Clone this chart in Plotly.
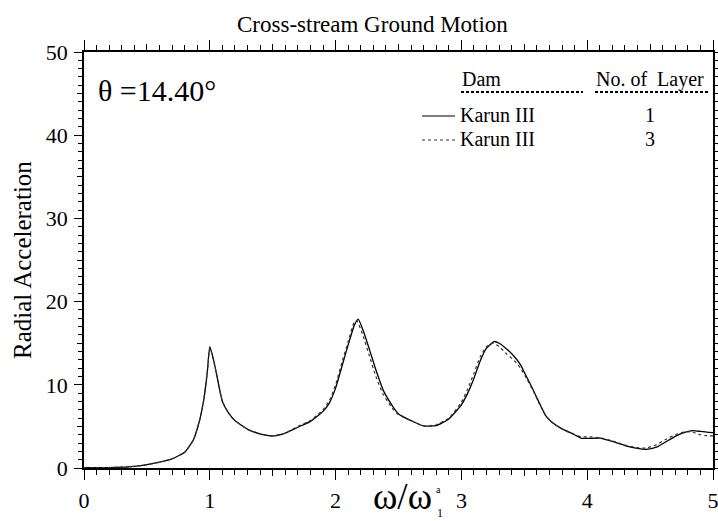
import plotly.graph_objects as go

# ---- data ----
freq_1 = [0, 0.1, 0.2, 0.3, 0.4, 0.5, 0.6, 0.7, 0.8, 0.87, 0.92, 0.95, 0.98, 1.0, 1.03, 1.06, 1.1, 1.15, 1.2,
          1.3, 1.4, 1.5, 1.6, 1.7, 1.8, 1.9, 1.95, 2.0, 2.05, 2.1, 2.15, 2.18, 2.22, 2.27, 2.32, 2.38, 2.45,
          2.5, 2.6, 2.7, 2.8, 2.9, 3.0, 3.05, 3.1, 3.15, 3.2, 3.26, 3.3, 3.36, 3.42, 3.47, 3.52, 3.57, 3.62,
          3.67, 3.72, 3.8, 3.9, 3.95, 4.0, 4.1, 4.2, 4.3, 4.4, 4.47, 4.55, 4.62, 4.7, 4.78, 4.84, 4.9, 4.95, 5.0]
acc_1layer = [0.05, 0.05, 0.05, 0.1, 0.2, 0.4, 0.7, 1.1, 1.9, 3.4, 5.8, 8.0, 11.5, 14.6, 13.0, 10.8, 8.0, 6.6, 5.7,
              4.65, 4.1, 3.85, 4.2, 4.9, 5.6, 6.8, 7.8, 9.6, 12.2, 14.8, 17.2, 17.9, 16.5, 14.2, 11.8, 9.3, 7.5,
              6.5, 5.7, 5.05, 5.1, 5.9, 7.6, 9.0, 10.8, 12.9, 14.4, 15.2, 15.0, 14.3, 13.4, 12.4, 10.9, 9.4, 7.8,
              6.3, 5.5, 4.7, 4.0, 3.6, 3.55, 3.6, 3.2, 2.7, 2.35, 2.25, 2.5, 3.1, 3.8, 4.3, 4.5, 4.4, 4.3, 4.25]

freq_3 = [0, 0.1, 0.2, 0.3, 0.4, 0.5, 0.6, 0.7, 0.8, 0.87, 0.92, 0.95, 0.98, 1.0, 1.03, 1.06, 1.1, 1.15, 1.2,
          1.3, 1.4, 1.5, 1.6, 1.7, 1.8, 1.9, 1.95, 2.0, 2.05, 2.1, 2.15, 2.17, 2.22, 2.27, 2.32, 2.38, 2.45,
          2.5, 2.6, 2.7, 2.8, 2.9, 3.0, 3.05, 3.1, 3.15, 3.2, 3.25, 3.3, 3.36, 3.42, 3.47, 3.52, 3.57, 3.62,
          3.67, 3.72, 3.8, 3.9, 3.95, 4.0, 4.1, 4.2, 4.3, 4.4, 4.47, 4.55, 4.62, 4.7, 4.78, 4.84, 4.9, 4.95, 5.0]
acc_3layer = [0.05, 0.05, 0.05, 0.1, 0.2, 0.4, 0.7, 1.1, 1.9, 3.4, 5.8, 8.0, 11.5, 14.5, 13.0, 10.8, 8.0, 6.6, 5.7,
              4.65, 4.1, 3.85, 4.2, 5.0, 5.7, 7.0, 8.1, 10.0, 12.7, 15.2, 17.6, 17.7, 15.8, 13.4, 11.0, 8.8, 7.2,
              6.4, 5.7, 5.05, 5.2, 6.0, 7.9, 9.5, 11.4, 13.4, 14.6, 15.0, 14.6, 13.7, 12.9, 12.0, 10.7, 9.3, 7.7,
              6.3, 5.5, 4.7, 4.0, 3.75, 3.75, 3.65, 3.25, 2.75, 2.45, 2.4, 2.8, 3.4, 4.0, 4.35, 4.3, 4.0, 3.9, 3.85]

x_major = [0, 1, 2, 3, 4, 5]
x_mid = [0.5, 1.5, 2.5, 3.5, 4.5]
y_major = [0, 10, 20, 30, 40, 50]
y_mid = [5, 15, 25, 35, 45]

FONT = "Liberation Serif"

fig = go.Figure()
fig.add_trace(go.Scatter(x=freq_1, y=acc_1layer, mode="lines",
                         line=dict(color="black", width=1.3, shape="spline", smoothing=0.5),
                         showlegend=False))
fig.add_trace(go.Scatter(x=freq_3, y=acc_3layer, mode="lines",
                         line=dict(color="#333333", width=1.2, dash="dot", shape="spline", smoothing=0.5),
                         showlegend=False))
# invisible trace for overlay axes (medium ticks)
fig.add_trace(go.Scatter(x=[0], y=[0], xaxis="x2", yaxis="y2", mode="markers", marker=dict(opacity=0),
                         showlegend=False, hoverinfo="skip"))

axis_common = dict(showgrid=False, zeroline=False, showline=True, linecolor="black", linewidth=1.6,
                   mirror="ticks", ticks="outside", tickcolor="black", tickwidth=1.2, automargin=False,
                   ticklabeloverflow="allow",
                   tickfont=dict(family=FONT, size=22, color="black"))

fig.update_layout(
    width=718, height=521,
    margin=dict(l=84, r=5, t=52, b=53, autoexpand=False),
    plot_bgcolor="white", paper_bgcolor="white",
    xaxis=dict(range=[0, 5], tickvals=x_major, ticklen=10, ticklabelstandoff=2,
               minor=dict(dtick=0.1, ticklen=5, ticks="outside", tickcolor="black", tickwidth=1.2), **axis_common),
    yaxis=dict(range=[0, 50], tickvals=y_major, ticklen=8, ticklabelstandoff=2,
               minor=dict(dtick=1, ticklen=4, ticks="outside", tickcolor="black", tickwidth=1.2), **axis_common),
    xaxis2=dict(range=[0, 5], overlaying="x", anchor="y", tickvals=x_mid, ticks="outside", ticklen=7,
                tickcolor="black", tickwidth=1.2, mirror="ticks", showticklabels=False, showgrid=False,
                zeroline=False, showline=False, automargin=False),
    yaxis2=dict(range=[0, 50], overlaying="y", anchor="x", tickvals=y_mid, ticks="outside", ticklen=6,
                tickcolor="black", tickwidth=1.2, mirror="ticks", showticklabels=False, showgrid=False,
                zeroline=False, showline=False, automargin=False),
)

def px_x(px):
    return (px - 84) / 629.0

def px_y(py):
    return (468 - py) / 416.0

anns = []
anns.append(dict(text="Cross-stream Ground Motion", x=px_x(372), y=px_y(25), xref="paper", yref="paper",
                 showarrow=False, font=dict(family=FONT, size=23, color="black"), xanchor="center", yanchor="middle"))
anns.append(dict(text="Radial Acceleration", x=px_x(22), y=px_y(260), xref="paper", yref="paper", textangle=-90,
                 showarrow=False, font=dict(family=FONT, size=25, color="black"), xanchor="center", yanchor="middle"))
anns.append(dict(text="θ =14.40°", x=px_x(96), y=px_y(90), xref="paper", yref="paper",
                 showarrow=False, font=dict(family=FONT, size=30, color="black"), xanchor="left", yanchor="middle"))
anns.append(dict(text="ω/ω", x=px_x(434), y=px_y(496), xref="paper", yref="paper",
                 showarrow=False, font=dict(family=FONT, size=37, color="black"), xanchor="right", yanchor="middle"))
anns.append(dict(text="a", x=px_x(434), y=px_y(489), xref="paper", yref="paper",
                 showarrow=False, font=dict(family=FONT, size=10, color="black"), xanchor="left", yanchor="middle"))
anns.append(dict(text="1", x=px_x(435), y=px_y(513), xref="paper", yref="paper",
                 showarrow=False, font=dict(family=FONT, size=12, color="black"), xanchor="left", yanchor="middle"))
# legend table
lf = dict(family=FONT, size=20, color="black")
anns.append(dict(text="Dam", x=px_x(460), y=px_y(79), xref="paper", yref="paper", showarrow=False, font=lf,
                 xanchor="left", yanchor="middle"))
anns.append(dict(text="No. of  Layer", x=px_x(594), y=px_y(79), xref="paper", yref="paper", showarrow=False, font=lf,
                 xanchor="left", yanchor="middle"))
anns.append(dict(text="Karun III", x=px_x(458), y=px_y(115), xref="paper", yref="paper", showarrow=False, font=lf,
                 xanchor="left", yanchor="middle"))
anns.append(dict(text="Karun III", x=px_x(458), y=px_y(139), xref="paper", yref="paper", showarrow=False, font=lf,
                 xanchor="left", yanchor="middle"))
anns.append(dict(text="1", x=px_x(650), y=px_y(115), xref="paper", yref="paper", showarrow=False, font=lf,
                 xanchor="center", yanchor="middle"))
anns.append(dict(text="3", x=px_x(650), y=px_y(139), xref="paper", yref="paper", showarrow=False, font=lf,
                 xanchor="center", yanchor="middle"))
fig.update_layout(annotations=anns)

shapes = [
    dict(type="line", xref="paper", yref="paper", x0=px_x(461), x1=px_x(583), y0=px_y(92), y1=px_y(92),
         line=dict(color="black", width=2, dash="3px,2px")),
    dict(type="line", xref="paper", yref="paper", x0=px_x(595), x1=px_x(708), y0=px_y(92), y1=px_y(92),
         line=dict(color="black", width=2, dash="3px,2px")),
    dict(type="line", xref="paper", yref="paper", x0=px_x(422), x1=px_x(455), y0=px_y(116), y1=px_y(116),
         line=dict(color="black", width=1.2)),
    dict(type="line", xref="paper", yref="paper", x0=px_x(422), x1=px_x(455), y0=px_y(140), y1=px_y(140),
         line=dict(color="#333333", width=1.2, dash="dot")),
]
fig.update_layout(shapes=shapes)

fig.write_html("out.html", config={"displayModeBar": False},
               post_script="document.body.style.margin='0px'; document.body.style.overflow='hidden';")
